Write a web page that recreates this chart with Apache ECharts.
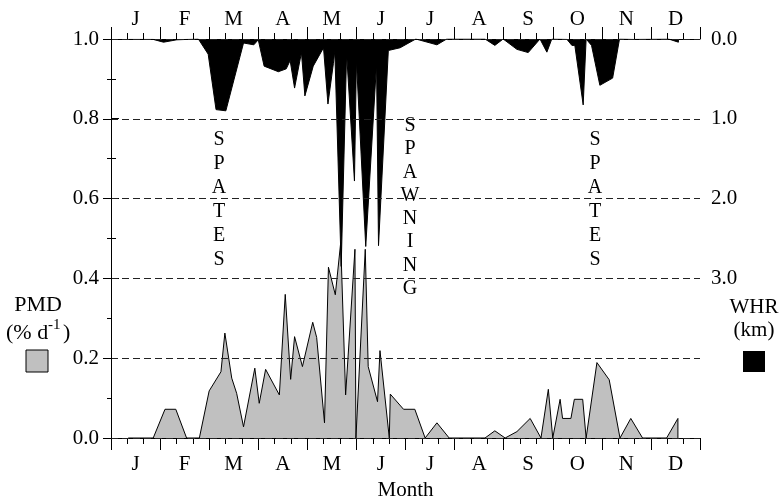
<!DOCTYPE html>
<html>
<head>
<meta charset="utf-8">
<script src="https://cdn.jsdelivr.net/npm/echarts@6/dist/echarts.min.js"></script>
<style>
  html, body { margin: 0; padding: 0; background: #fff; }
  #chart { width: 779px; height: 498px; }
</style>
</head>
<body>
<div id="chart"></div>
<script>
// month initials (top and bottom axes)
const months = ["J", "F", "M", "A", "M", "J", "J", "A", "S", "O", "N", "D"];
const pmdTicks = ["0.0", "0.2", "0.4", "0.6", "0.8", "1.0"];
const whrTicks = ["0.0", "1.0", "2.0", "3.0"];

// x is time in months from 1 Jan
// PMD (% d-1), grey area
const pmdX = [0.35, 0.86, 1.10, 1.32, 1.54, 1.80, 2.00, 2.24, 2.32, 2.46,
  2.56, 2.70, 2.93, 3.02, 3.15, 3.43, 3.55, 3.66, 3.74, 3.90,
  4.11, 4.19, 4.35, 4.43, 4.57, 4.68, 4.78, 4.97, 4.99, 5.18,
  5.24, 5.43, 5.48, 5.67, 5.69, 5.96, 6.19, 6.40, 6.64, 6.89,
  7.62, 7.82, 8.03, 8.27, 8.54, 8.76, 8.91, 9.00, 9.15, 9.20,
  9.37, 9.44, 9.61, 9.68, 9.90, 10.15, 10.37, 10.59, 10.83, 11.32,
  11.55, 11.55];
const pmdY = [0, 0, 0.072, 0.072, 0, 0, 0.118, 0.166, 0.263, 0.150,
  0.112, 0.028, 0.175, 0.087, 0.172, 0.108, 0.36, 0.147, 0.254, 0.179,
  0.29, 0.252, 0.038, 0.428, 0.359, 0.49, 0.108, 0.473, 0, 0.473,
  0.179, 0.091, 0.219, 0, 0.11, 0.072, 0.072, 0, 0.038, 0,
  0, 0.018, 0, 0.016, 0.049, 0, 0.122, 0, 0.097, 0.049,
  0.049, 0.097, 0.097, 0, 0.189, 0.146, 0, 0.049, 0, 0,
  0.049, 0];

// WHR (km), black area hanging from the top
const whrX = [0.35, 0.86, 1.07, 1.34, 1.78, 1.98, 2.14, 2.34, 2.70, 2.91,
  3.00, 3.12, 3.41, 3.57, 3.65, 3.74, 3.88, 3.95, 4.12, 4.33,
  4.42, 4.53, 4.56, 4.69, 4.80, 4.96, 5.00, 5.19, 5.41, 5.45,
  5.65, 5.89, 6.21, 6.64, 6.84, 7.62, 7.82, 7.99, 8.27, 8.50,
  8.74, 8.88, 8.98, 9.29, 9.39, 9.45, 9.62, 9.68, 9.79, 9.96,
  10.22, 10.36, 10.64, 11.36, 11.56, 11.56];
const whrY = [0.005, 0.005, 0.04, 0.01, 0, 0.19, 0.885, 0.9, 0.05, 0.073,
  0.01, 0.34, 0.41, 0.374, 0.27, 0.615, 0.17, 0.713, 0.34, 0.11,
  0.815, 0.31, 0.15, 2.85, 0.18, 1.78, 0.27, 2.6, 0.31, 2.59,
  0.144, 0.11, 0, 0.073, 0, 0, 0.08, 0, 0.13, 0.17,
  0, 0.165, 0, 0.005, 0.08, 0.08, 0.826, 0, 0.08, 0.58,
  0.49, 0, 0.005, 0, 0.04, 0];

const FONT = '"Liberation Serif", "Times New Roman", serif';
const ink = "#000";

const chart = echarts.init(document.getElementById("chart"));

// axis with ticks only (month boundaries + 10-day marks)
function tickAxis(pos) {
  return {
    type: "value", gridIndex: 0, position: pos, min: 0, max: 12, interval: 1,
    axisLine: { show: true, lineStyle: { color: ink, width: 1 } },
    axisTick: { show: true, inside: false, length: 12, lineStyle: { color: ink } },
    minorTick: { show: true, splitNumber: 3, length: 6, lineStyle: { color: ink } },
    axisLabel: { show: false },
    splitLine: { show: false },
  };
}
// axis with month letters centred in each month
function labelAxis(pos, margin) {
  return {
    type: "category", gridIndex: 0, position: pos, data: months, boundaryGap: true,
    axisLine: { show: false }, axisTick: { show: false },
    axisLabel: { color: ink, fontFamily: FONT, fontSize: 21, margin: margin },
  };
}

const bottomLabels = labelAxis("bottom", 16);
bottomLabels.name = "Month";
bottomLabels.nameLocation = "middle";
bottomLabels.nameGap = 39;
bottomLabels.nameTextStyle = { color: ink, fontFamily: FONT, fontSize: 21 };

function vtext(word, x, y, lh) {
  return {
    type: "text", x: x, y: y, z: 20,
    style: {
      text: word.split("").join("\n"), font: "20px " + FONT, fill: ink,
      align: "center", verticalAlign: "top", lineHeight: lh,
    },
  };
}
function label(t, x, y, size, align) {
  return {
    type: "text", x: x, y: y, z: 20,
    style: { text: t, font: size + "px " + FONT, fill: ink, align: align || "center", verticalAlign: "middle" },
  };
}

let option = {
  animation: false,
  backgroundColor: "#fff",
  grid: [
    { left: 111, right: 79, top: 39, bottom: 60, outerBoundsMode: "none" },
    // only the 0-3 km part of the right axis is labelled
    { left: 111, right: 79, top: 39, height: 239.1, outerBoundsMode: "none" },
  ],
  xAxis: [
    tickAxis("bottom"),
    tickAxis("top"),
    bottomLabels,
    labelAxis("top", 9),
    { type: "value", gridIndex: 1, min: 0, max: 12, show: false },
  ],
  yAxis: [
    {
      type: "value", gridIndex: 0, position: "left", min: 0, max: 1, interval: 0.2, z: 10,
      axisLine: { show: true, lineStyle: { color: ink } },
      axisTick: { show: true, length: 8, lineStyle: { color: ink } },
      minorTick: { show: true, splitNumber: 2, length: 4, lineStyle: { color: ink } },
      axisLabel: {
        color: ink, fontFamily: FONT, fontSize: 21, margin: 12,
        formatter: (v) => pmdTicks[Math.round(v / 0.2)],
      },
      splitLine: { show: true, lineStyle: { color: "#222", type: [7, 4], width: 1 } },
    },
    {
      type: "value", gridIndex: 0, position: "right", min: 0, max: 5, inverse: true,
      axisLine: { show: true, lineStyle: { color: ink } },
      axisTick: { show: false }, axisLabel: { show: false }, splitLine: { show: false },
    },
    {
      type: "value", gridIndex: 1, position: "right", min: 0, max: 3, interval: 1, inverse: true,
      axisLine: { show: false },
      axisTick: { show: true, length: 8, lineStyle: { color: ink } },
      minorTick: { show: true, splitNumber: 2, length: 5, lineStyle: { color: ink } },
      axisLabel: {
        color: ink, fontFamily: FONT, fontSize: 21, margin: 11,
        formatter: (v) => whrTicks[Math.round(v)],
      },
      splitLine: { show: false },
    },
  ],
  series: [
    {
      name: "PMD", type: "line", xAxisIndex: 0, yAxisIndex: 0, z: 2,
      data: pmdX.map((x, i) => [x, pmdY[i]]),
      symbol: "none",
      lineStyle: { color: ink, width: 1 },
      areaStyle: { color: "#c0c0c0", opacity: 1 },
    },
    {
      name: "WHR", type: "line", xAxisIndex: 0, yAxisIndex: 1, z: 3,
      data: whrX.map((x, i) => [x, whrY[i]]),
      symbol: "none",
      lineStyle: { color: ink, width: 1 },
      areaStyle: { color: ink, opacity: 1 },
    },
  ],
  graphic: [
    vtext("SPATES", 219, 128, 24),
    vtext("SPAWNING", 410, 114, 23.3),
    vtext("SPATES", 595, 128, 24),
    label("PMD", 38, 305, 22),
    label("(% d", 6, 333, 22, "left"),
    label("-1", 48, 325, 15, "left"),
    label(")", 63, 333, 22, "left"),
    { type: "rect", shape: { x: 26, y: 350, width: 22, height: 22 }, style: { fill: "#c0c0c0", stroke: ink, lineWidth: 1 } },
    label("WHR", 754, 307, 21),
    label("(km)", 754, 330, 21),
    { type: "rect", shape: { x: 743, y: 351, width: 22, height: 21 }, style: { fill: ink } },
  ],
};

chart.setOption(option);
</script>
</body>
</html>
